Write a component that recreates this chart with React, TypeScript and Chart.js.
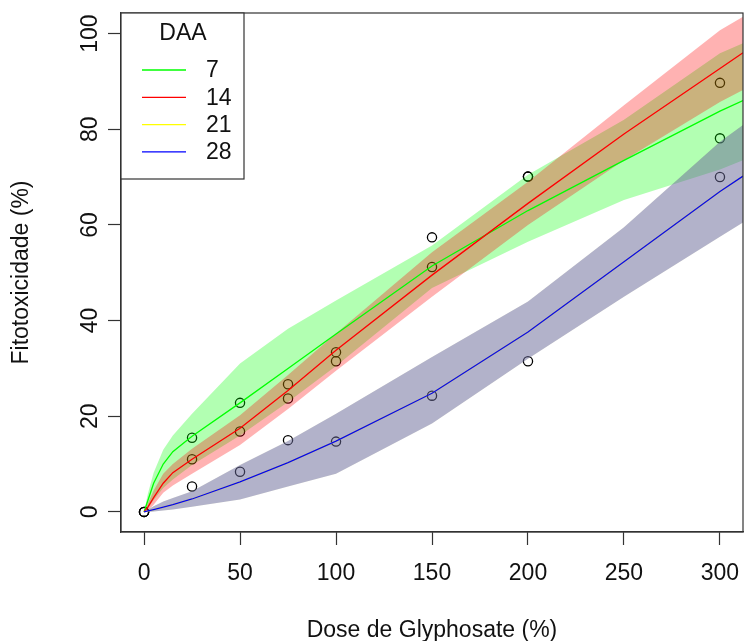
import React, { useEffect, useRef } from 'react';
import { Chart, registerables } from 'chart.js';

Chart.register(...registerables);

// ---- data ----
const doses = [0, 2, 5, 10, 15, 25, 50, 75, 100, 150, 200, 250, 300, 312];

const fit7 = [0, 2.4, 6.0, 10.0, 12.6, 15.8, 22.8, 30, 37.2, 51.4, 63, 73.5, 83.8, 86];
const upper7 = [0, 3.8, 8.2, 13, 16, 20.5, 31, 38.3, 44.2, 55.7, 70.5, 82, 95.9, 98];
const lower7 = [0, 0.7, 2.5, 5, 6.8, 9.8, 16, 23, 30.5, 46.8, 56.5, 65.2, 71.6, 73.5];

const fit14 = [0, 1, 3, 6, 8.2, 11, 17.5, 25.4, 33.8, 49.5, 64.5, 79, 92.7, 96];
const upper14 = [0, 1.8, 4.5, 8, 10, 13.2, 20.2, 28.6, 37.3, 54.3, 69, 85, 100.7, 103.5];
const lower14 = [0, 0.3, 1.5, 4, 5.5, 8, 14, 21.5, 29.5, 45, 60, 73.5, 85.7, 88.2];

const fit21 = [0, 0.2, 0.5, 1.0, 1.5, 2.7, 6.3, 10.3, 14.8, 24.8, 37.6, 52.3, 67, 70.2];
const upper21 = [0, 0.5, 1.2, 2.2, 2.9, 4.3, 9.8, 14.8, 20.5, 32.4, 44, 59.5, 77.4, 80.9];
const lower21 = [0, 0, 0.1, 0.3, 0.5, 1.1, 2.6, 5.3, 8, 18.5, 32, 45, 57.5, 60.5];

const fit28 = [0, 0.2, 0.5, 1.0, 1.5, 2.7, 6.3, 10.3, 14.8, 24.8, 37.6, 52.3, 67, 70.2];
const upper28 = [0, 0.5, 1.2, 2.2, 2.9, 4.3, 9.8, 14.8, 20.5, 32.4, 44, 59.5, 77.4, 80.9];
const lower28 = [0, 0, 0.1, 0.3, 0.5, 1.1, 2.6, 5.3, 8, 18.5, 32, 45, 57.5, 60.5];

const obsDose = [0, 25, 50, 75, 100, 150, 200, 300];
const obs7 = [0, 15.5, 22.8, 26.7, 33.4, 57.4, 70.1, 78.1];
const obs14 = [0, 11.0, 16.8, 23.7, 31.5, 51.2, 70.1, 89.7];
const obs28 = [0, 5.3, 8.4, 15.0, 14.7, 24.3, 31.5, 70.0];

const xTicks = [0, 50, 100, 150, 200, 250, 300];
const yTicks = [0, 20, 40, 60, 80, 100];

const seriesLabels = ['7', '14', '21', '28'];
const lineColors = ['#00FF00', '#FF0000', '#FFFF00', '#0000FF'];
const bandColors = ['rgba(0,255,0,0.3)', 'rgba(255,0,0,0.3)', 'rgba(255,255,0,0.3)', 'rgba(0,0,255,0.3)'];

const legendTitle = 'DAA';
const xTitle = 'Dose de Glyphosate (%)';
const yTitle = 'Fitotoxicidade (%)';

const FONT = '"Liberation Sans", Arial, Helvetica, sans-serif';
const AXIS = '#333333';
const TEXT = '#111111';

const pts = (xs: number[], ys: number[]) => xs.map((x, i) => ({ x, y: ys[i] }));

const fits = [fit7, fit14, fit21, fit28];
const uppers = [upper7, upper14, upper21, upper28];
const lowers = [lower7, lower14, lower21, lower28];

const extrasPlugin = {
  id: 'rExtras',
  afterDraw(chart: any) {
    const { ctx, chartArea, scales } = chart;
    const ys = scales.y;
    ctx.save();
    // full box
    ctx.strokeStyle = AXIS;
    ctx.lineWidth = 1.2;
    ctx.strokeRect(chartArea.left, chartArea.top, chartArea.right - chartArea.left, chartArea.bottom - chartArea.top);

    // y tick labels, rotated like R
    ctx.fillStyle = TEXT;
    ctx.font = `23px ${FONT}`;
    ctx.textAlign = 'center';
    ctx.textBaseline = 'middle';
    yTicks.forEach((v) => {
      const py = ys.getPixelForValue(v);
      ctx.save();
      ctx.translate(chartArea.left - 30, py);
      ctx.rotate(-Math.PI / 2);
      ctx.fillText(String(v), 0, 0);
      ctx.restore();
    });

    // legend
    const lx = chartArea.left;
    const ly = chartArea.top;
    const lw = 123;
    const lh = 166;
    ctx.fillStyle = '#ffffff';
    ctx.fillRect(lx, ly, lw, lh);
    ctx.strokeStyle = AXIS;
    ctx.lineWidth = 1.2;
    ctx.strokeRect(lx, ly, lw, lh);
    ctx.fillStyle = TEXT;
    ctx.textAlign = 'center';
    ctx.fillText(legendTitle, lx + 62, ly + 21);
    seriesLabels.forEach((lab, i) => {
      const yy = ly + 57 + i * 27.3;
      ctx.strokeStyle = lineColors[i];
      ctx.lineWidth = 1.3;
      ctx.beginPath();
      ctx.moveTo(lx + 21, yy);
      ctx.lineTo(lx + 65, yy);
      ctx.stroke();
      ctx.fillStyle = TEXT;
      ctx.textAlign = 'left';
      ctx.fillText(lab, lx + 85, yy + 1);
    });
    ctx.restore();
  },
};

export default function App() {
  const ref = useRef<HTMLCanvasElement | null>(null);

  useEffect(() => {
    if (!ref.current) return;
    const datasets: any[] = [];

    // fitted lines (drawn last = lowest order)
    const lineOrder = [40, 30, 20, 10];
    fits.forEach((f, i) => {
      datasets.push({
        label: seriesLabels[i],
        data: pts(doses, f),
        borderColor: lineColors[i],
        borderWidth: 1.3,
        pointRadius: 0,
        fill: false,
        tension: 0,
        order: lineOrder[i],
      });
    });

    // confidence bands
    const bandOrder = [90, 80, 70, 60];
    uppers.forEach((u, i) => {
      datasets.push({
        label: seriesLabels[i] + ' upper',
        data: pts(doses, u),
        borderColor: 'rgba(0,0,0,0)',
        borderWidth: 0,
        pointRadius: 0,
        fill: false,
        tension: 0,
        order: bandOrder[i],
      });
      datasets.push({
        label: seriesLabels[i] + ' lower',
        data: pts(doses, lowers[i]),
        borderColor: 'rgba(0,0,0,0)',
        borderWidth: 0,
        pointRadius: 0,
        backgroundColor: bandColors[i],
        fill: '-1',
        tension: 0,
        order: bandOrder[i],
      });
    });

    // observed points (drawn first, under the bands)
    [obs7, obs14, obs28].forEach((o, i) => {
      datasets.push({
        label: 'obs ' + i,
        data: pts(obsDose, o),
        showLine: false,
        pointRadius: 4.6,
        pointBorderWidth: 1.3,
        pointBorderColor: '#000000',
        pointBackgroundColor: 'rgba(0,0,0,0)',
        borderColor: '#000000',
        order: 100,
      });
    });

    const chart = new Chart(ref.current, {
      type: 'line',
      data: { datasets },
      plugins: [extrasPlugin],
      options: {
        animation: false,
        responsive: false,
        devicePixelRatio: 1,
        layout: { autoPadding: false, padding: { left: 0, right: 1, top: 13, bottom: 0 } },
        plugins: {
          legend: { display: false },
          tooltip: { enabled: false },
          filler: { drawTime: 'beforeDatasetDraw' } as any,
        },
        scales: {
          x: {
            type: 'linear',
            min: -12,
            max: 312,
            afterBuildTicks: (s: any) => {
              s.ticks = xTicks.map((v) => ({ value: v }));
            },
            afterFit: (s: any) => {
              s.height = 109;
              s.paddingLeft = 0;
              s.paddingRight = 0;
            },
            grid: {
              drawOnChartArea: false,
              drawTicks: true,
              tickLength: 13,
              tickColor: AXIS,
              tickWidth: 1.2,
            },
            border: { display: true, color: AXIS, width: 1.2 },
            ticks: {
              color: TEXT,
              font: { family: FONT, size: 23 },
              padding: 15,
              maxRotation: 0,
              autoSkip: false,
            },
            title: {
              display: true,
              text: xTitle,
              color: TEXT,
              font: { family: FONT, size: 23 },
              padding: { top: 0, bottom: -3 },
            },
          },
          y: {
            type: 'linear',
            min: -4.2,
            max: 104.3,
            afterBuildTicks: (s: any) => {
              s.ticks = yTicks.map((v) => ({ value: v }));
            },
            afterFit: (s: any) => {
              s.width = 121;
              s.paddingTop = 0;
              s.paddingBottom = 0;
            },
            grid: {
              drawOnChartArea: false,
              drawTicks: true,
              tickLength: 13,
              tickColor: AXIS,
              tickWidth: 1.2,
            },
            border: { display: true, color: AXIS, width: 1.2 },
            ticks: { display: false },
            title: {
              display: true,
              text: yTitle,
              color: TEXT,
              font: { family: FONT, size: 23 },
              padding: { top: 8, bottom: 0 },
            },
          },
        },
      } as any,
    });
    return () => chart.destroy();
  }, []);

  return (
    <div style={{ position: 'absolute', left: 0, top: 0, width: 744, height: 641, background: '#ffffff' }}>
      <canvas ref={ref} width={744} height={641} style={{ display: 'block', width: 744, height: 641 }} />
    </div>
  );
}
